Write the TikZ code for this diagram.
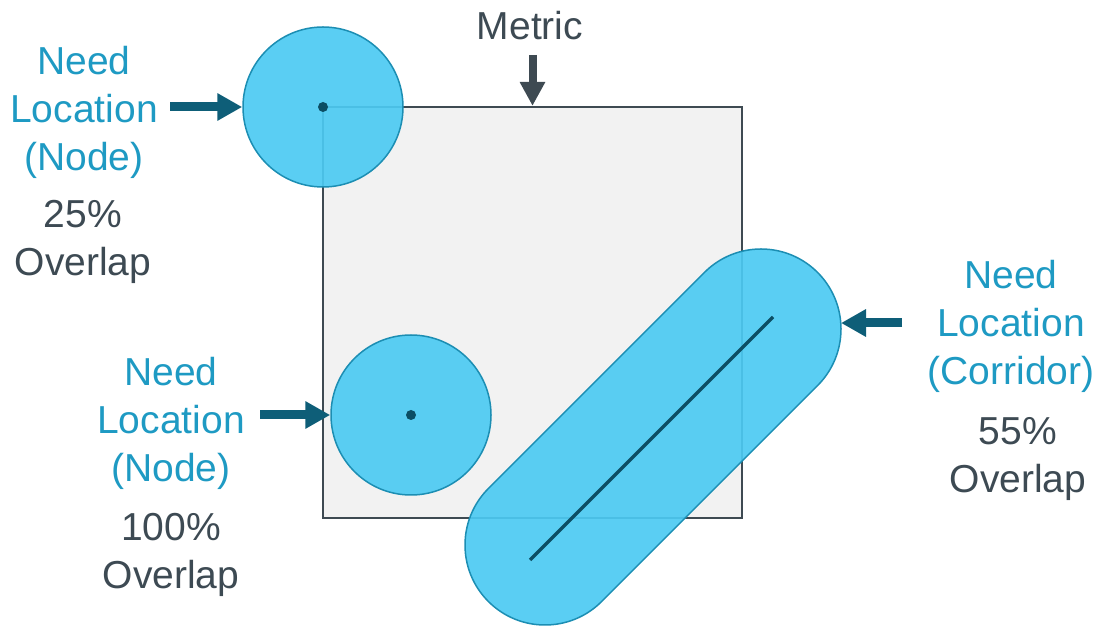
\documentclass[tikz,border=0pt]{standalone}
\usepackage{fontspec}
\setmainfont{Liberation Sans}
\usetikzlibrary{arrows.meta}
\definecolor{txtblue}{HTML}{1E9AC3}
\definecolor{txtgray}{HTML}{3D4A53}
\definecolor{cfill}{HTML}{4CCAF2}
\definecolor{cline}{HTML}{1C8EB3}
\definecolor{sqfill}{HTML}{F2F2F2}
\definecolor{sqline}{HTML}{3E4A52}
\definecolor{arrteal}{HTML}{0E5E78}
\definecolor{dotc}{HTML}{0C4E64}
\tikzset{
  sq/.style={draw=sqline, fill=sqfill, line width=2.2pt, minimum width=419pt, minimum height=411pt, inner sep=0pt},
  circ/.style={circle, draw=cline, line width=1.5pt, fill=cfill, fill opacity=0.92, minimum size=160pt, inner sep=0pt},
  corr/.style={draw=cline, line width=1.5pt, fill=cfill, fill opacity=0.92},
  dotst/.style={circle, fill=dotc, minimum size=10pt, inner sep=0pt},
  axisline/.style={draw=dotc, line width=3.5pt},
  arr/.style={draw=arrteal, line width=9pt, -{Triangle[length=25pt,width=26pt]}, arrteal},
  marr/.style={draw=sqline, line width=8pt, -{Triangle[length=24pt,width=24pt]}, sqline},
  bluetxt/.style={text=txtblue, font=\fontsize{39}{48}\selectfont, align=center, inner sep=0pt, anchor=north},
  graytxt/.style={text=txtgray, font=\fontsize{39}{48}\selectfont, align=center, inner sep=0pt, anchor=north}
}
\begin{document}
\begin{tikzpicture}[x=1pt,y=1pt]
\useasboundingbox (0,0) rectangle (1100,626);
\node[sq] (metric) at (532.5,313.5) {};
\node[circ] (c1) at (323,519) {};
\node[circ] (c2) at (411,211) {};
\node[dotst] (d1) at (c1) {};
\node[dotst] (d2) at (c2) {};
\begin{scope}[shift={(545,81)}, rotate=45]
  \path[corr] (0,-80) -- (305.47,-80) arc[start angle=-90,end angle=90,radius=80pt] -- (0,80) arc[start angle=90,end angle=270,radius=80pt] -- cycle;
  \coordinate (cE) at (362.04,-56.57);
\end{scope}
\coordinate (cA) at (530,66);
\coordinate (cB) at (773,309);
\draw[axisline] (cA) -- (cB);
% texts
\node[graytxt] (met) at (530,615) {Metric};
\node[bluetxt] (need1) at (84,580) {Need\\Location\\(Node)};
\node[graytxt] (ov1) at (83,426) {25\%\\Overlap};
\node[bluetxt] (need2) at (171,269) {Need\\Location\\(Node)};
\node[graytxt] (ov2) at (171,113) {100\%\\Overlap};
\node[bluetxt] (need3) at (1011,366) {Need\\Location\\(Corridor)};
\node[graytxt] (ov3) at (1018,209) {55\%\\Overlap};
% arrows
\coordinate (s1) at (170,519);
\coordinate (s2) at (260,211);
\coordinate (s3) at (902,303);
\coordinate (m0) at (532.5,571);
\draw[arr] (s1) -- (c1.west);
\draw[arr] (s2) -- (c2.west);
\draw[arr] (s3) -- (s3 -| cE);
\draw[marr] (m0) -- (metric.north);
\end{tikzpicture}
\end{document}
